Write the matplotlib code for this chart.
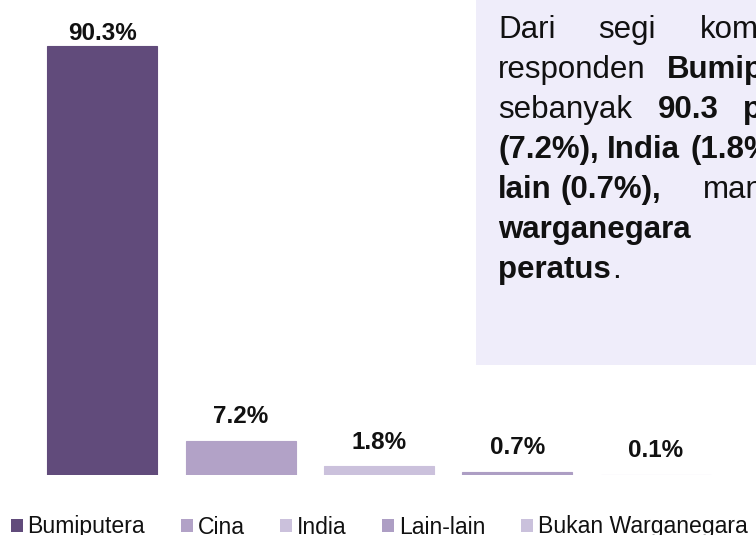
import matplotlib
matplotlib.use("Agg")
import matplotlib.pyplot as plt
from matplotlib.patches import Patch, Rectangle

plt.rcParams['font.family'] = ['Liberation Sans', 'DejaVu Sans']

# ------------------------------------
# Data
# ------------------------------------
kategori = ["Bumiputera", "Cina", "India", "Lain-lain", "Bukan Warganegara"]
peratus = [90.3, 7.2, 1.8, 0.7, 0.1]
label_teks = ["90.3%", "7.2%", "1.8%", "0.7%", "0.1%"]

warna = ["#614B7B", "#B2A2C7", "#CBC1DC", "#AD9EC4", "#CAC1DC"]

W, H = 756, 535


def px(x, y):
    # pixel (dari kiri atas) -> koordinat figure
    return x / W, 1 - y / H


fig = plt.figure(figsize=(W / 100, H / 100), dpi=100)

# ------------------------------------
# Kotak teks (latar belakang)
# ------------------------------------
fig.patches.append(Rectangle((476 / W, 1 - 365 / H), 1, 1,
                             transform=fig.transFigure, facecolor="#EFEDFA",
                             edgecolor="none", zorder=0))

# ------------------------------------
# Carta bar
# ------------------------------------
ax = fig.add_axes([33 / W, 60 / H, (725 - 33) / W, 475 / H])
x = range(len(kategori))
bars = ax.bar(x, peratus, width=0.794, color=warna, edgecolor=warna,
              linewidth=0.8, zorder=2)
ax.set_xlim(-0.5, 4.5)
ax.set_ylim(0, 100)
ax.axis("off")

# label nilai di atas bar
offset = [4.5, 12.5, 12.5, 12.5, 12.5]
for b, t, off in zip(bars, label_teks, offset):
    ax.annotate(t, (b.get_x() + b.get_width() / 2, b.get_height()),
                xytext=(0, off), textcoords="offset points",
                ha="center", va="baseline", fontsize=17.5,
                fontweight="bold", color="#111111")

# ------------------------------------
# Teks penerangan (justified, terpotong di kanan)
# ------------------------------------
baris = [
    [(498, "Dari", "normal"), (598, "segi", "normal"), (700, "komposisi", "normal")],
    [(498, "responden", "normal"), (667, "Bumiputera", "bold")],
    [(498, "sebanyak", "normal"), (658, "90.3", "bold"), (743, "peratus,", "bold")],
    [(498, "(7.2%),", "bold"), (607, "India", "bold"), (690, "(1.8%)", "bold")],
    [(498, "lain", "bold"), (560, "(0.7%),", "bold"), (703, "manakala", "normal")],
    [(498, "warganegara", "bold")],
    [(498, "peratus", "bold"), (612, ".", "normal")],
]
for i, kata in enumerate(baris):
    y = 38 + 40 * i
    for xp, t, wt in kata:
        fx, fy = px(xp, y)
        fig.text(fx, fy, t, fontsize=22.5, fontweight=wt, color="#111111",
                 ha="left", va="baseline")

# ------------------------------------
# Legend
# ------------------------------------
handles = [Patch(facecolor=c, edgecolor="none") for c in warna]
fig.legend(handles, kategori, loc="center left",
           bbox_to_anchor=(11 / W, 8 / H), ncol=5, frameon=False,
           fontsize=16.6, handlelength=0.52, handleheight=0.52,
           handletextpad=0.2, columnspacing=1.55, borderpad=0,
           borderaxespad=0, labelcolor="#111111")

plt.savefig("out.png", dpi=100)
plt.close()
